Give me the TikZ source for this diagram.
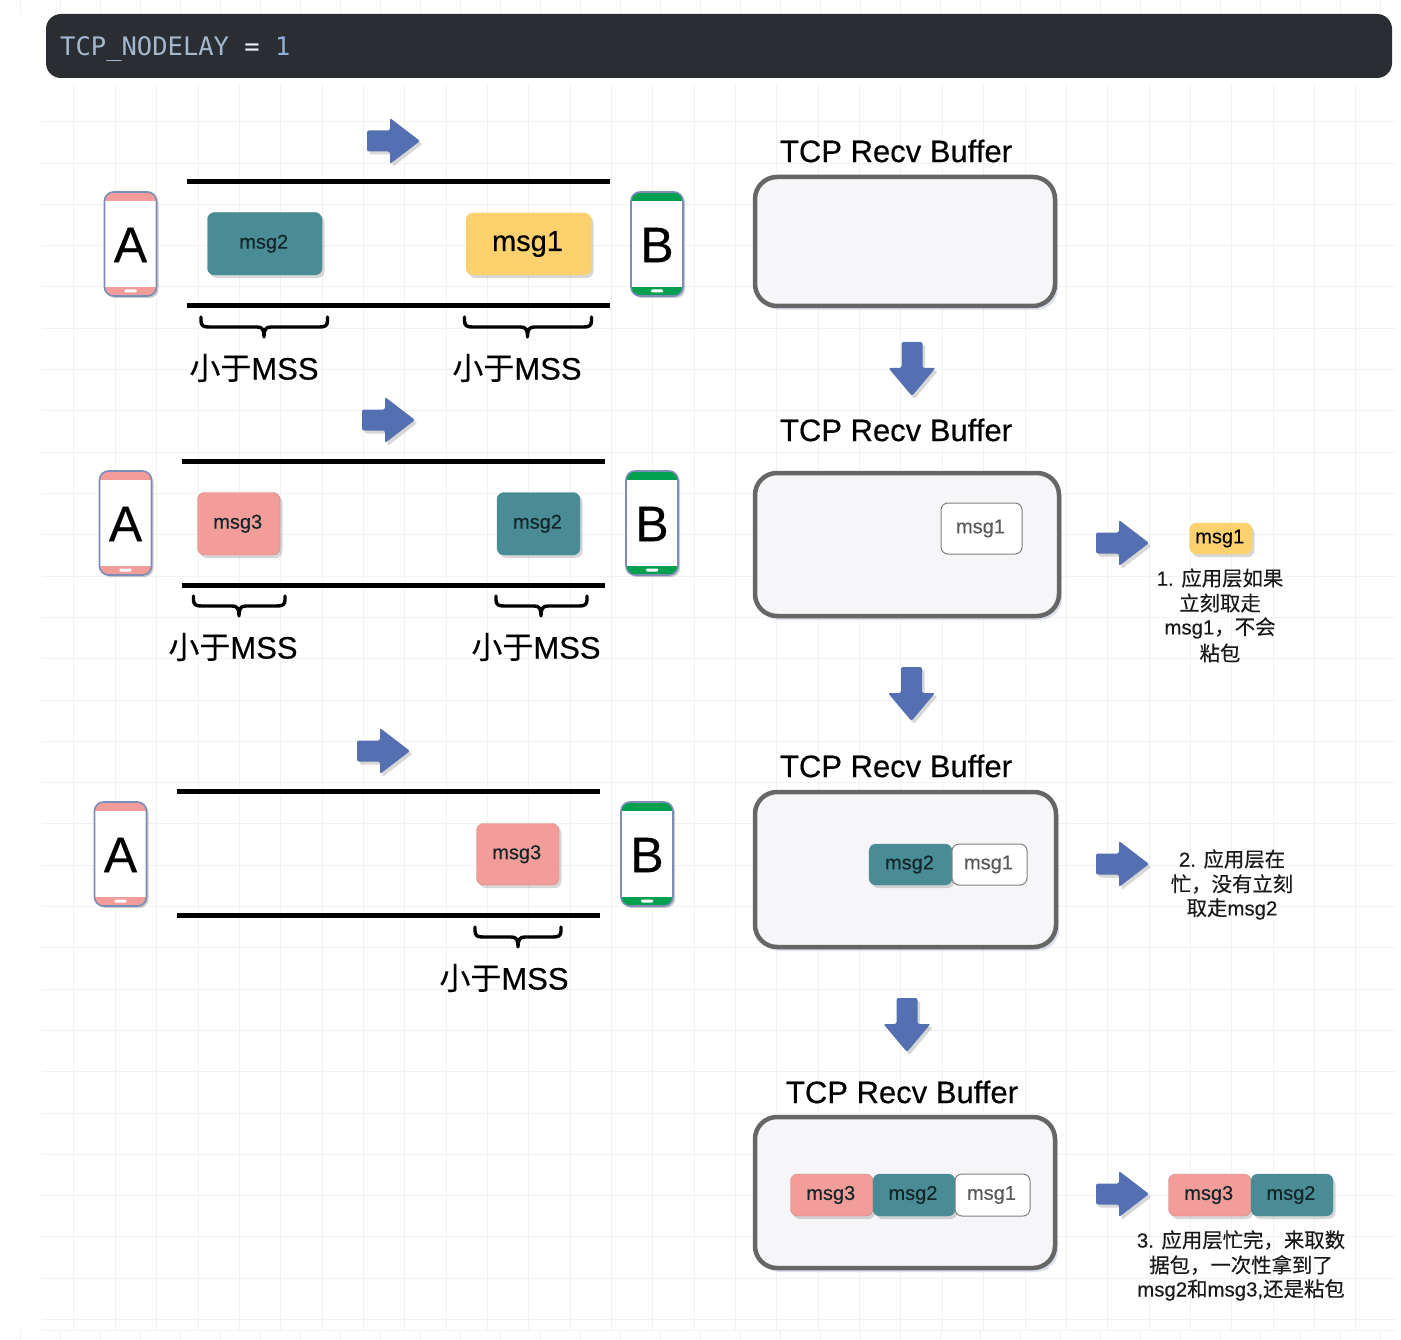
\documentclass[tikz,border=0pt]{standalone}
\usepackage{fontspec}
\setmainfont{Liberation Sans}[FakeBold=0.35]
\newfontfamily\cjk{Noto Sans CJK SC}[FakeBold=0.25]
\newfontfamily\codefont{DejaVu Sans Mono}
\usetikzlibrary{shadows}
\definecolor{codebg}{HTML}{2A2E33}
\definecolor{codefg}{HTML}{A3B8CF}
\definecolor{codenum}{HTML}{8FB0DC}
\definecolor{gridc}{HTML}{F2F2F2}
\definecolor{teal}{HTML}{4A8C96}
\definecolor{yel}{HTML}{FDD26E}
\definecolor{pinkc}{HTML}{F29D9A}
\definecolor{arrowc}{HTML}{5570B2}
\definecolor{phoneb}{HTML}{7C8DB8}
\definecolor{greenc}{HTML}{00A04E}
\definecolor{bufline}{HTML}{666666}
\definecolor{buffill}{HTML}{F6F6F8}
\definecolor{msgtxt}{HTML}{12262A}
\newcommand\fs[1]{\fontsize{#1}{#1}\selectfont}
\newcommand\cn[1]{{\cjk #1}}
\tikzset{
  softshadow/.style={drop shadow={shadow xshift=2.5pt,shadow yshift=-3pt,opacity=.22,fill=black!70}},
  msgbase/.style={rectangle,rounded corners=7pt,inner sep=0pt,text=msgtxt,font=\fs{20}},
  tealbox/.style={msgbase,fill=teal,draw=teal,softshadow},
  yelbox/.style={msgbase,fill=yel,draw=yel,softshadow},
  pinkbox/.style={msgbase,fill=pinkc,draw=pinkc!85!black,softshadow},
  whitebox/.style={msgbase,fill=white,draw=black!50,line width=1pt,text=black!65},
  buffer/.style={rectangle,rounded corners=22pt,inner sep=0pt,fill=buffill,draw=bufline,line width=4.5pt,
    drop shadow={shadow xshift=3pt,shadow yshift=-4pt,opacity=.25,fill=phoneb}},
  wire/.style={line width=5pt,draw=black},
  bracestroke/.style={line width=3.4pt,draw=black,line cap=round,line join=round},
  blockarrow/.style={fill=arrowc,rounded corners=2pt,softshadow},
  title/.style={font=\fs{31},text=black,inner sep=0pt},
  sizelabel/.style={font=\fs{31},text=black,inner sep=0pt},
  note/.style={font=\fs{20.4},text=black!90,inner sep=0pt,align=center},
  phone/.style={rounded corners=9pt,line width=1.6pt},
  phoneletter/.style={font=\fs{50},text=black,inner sep=0pt},
  gridline/.style={draw=gridc,line width=.8pt},
}
% name, x1, y1, x2, y2, style, text
\newcommand\boxnode[7]{%
  \pgfmathsetmacro\bw{#4-#2}\pgfmathsetmacro\bh{#5-#3}%
  \pgfmathsetmacro\bx{(#2+#4)/2}\pgfmathsetmacro\by{(#3+#5)/2}%
  \node[#6,minimum width=\bw pt,minimum height=\bh pt] (#1) at (\bx,\by) {\raisebox{-2.2pt}{\hspace*{-2pt}#7}};}
\newcommand\arrR[2]{%
  \path[blockarrow] (#1,#2-10.5) -- (#1+23,#2-10.5) -- (#1+23,#2-23) -- (#1+53,#2) -- (#1+23,#2+23) -- (#1+23,#2+10.5) -- (#1,#2+10.5) -- cycle;}
\newcommand\arrD[2]{%
  \path[blockarrow] (#1-10.5,#2) -- (#1+10.5,#2) -- (#1+10.5,#2+26) -- (#1+23.5,#2+26) -- (#1,#2+54) -- (#1-23.5,#2+26) -- (#1-10.5,#2+26) -- cycle;}
% x1 xtip x2 y
\newcommand\brc[4]{%
  \draw[bracestroke] (#1,#4) -- (#1,#4+4) .. controls (#1,#4+9) and (#1+3,#4+10) .. (#1+8,#4+10)
    -- (#2-7,#4+10) .. controls (#2-2,#4+10) and (#2,#4+12) .. (#2,#4+20)
    .. controls (#2,#4+12) and (#2+2,#4+10) .. (#2+7,#4+10)
    -- (#3-8,#4+10) .. controls (#3-3,#4+10) and (#3,#4+9) .. (#3,#4+4) -- (#3,#4);}
% name x y colour letter
\newcommand\phonedev[5]{%
  \begin{scope}[shift={(#2,#3)}]
    \fill[white,phone,drop shadow={shadow xshift=2pt,shadow yshift=-2pt,opacity=.2,fill=black}] (0,0) rectangle (52,104);
    \begin{scope}
      \clip[rounded corners=9pt] (0,0) rectangle (52,104);
      \fill[#4] (0,0) rectangle (52,9);
      \fill[#4] (0,95) rectangle (52,104);
    \end{scope}
    \fill[white,rounded corners=1pt] (20,97.5) rectangle (32,100.5);
    \draw[phone,draw=phoneb] (0,0) rectangle (52,104);
    \node[phoneletter] (#1) at (26,53) {#5};
  \end{scope}}
\begin{document}
\begin{tikzpicture}[x=1pt,y=-1pt]
\useasboundingbox (0,0) rectangle (1401,1340);
\fill[white] (0,0) rectangle (1401,1340);
% faint page grid
\begin{scope}
  \clip (42,84) rectangle (1396,1330);
  \foreach \k in {0,...,33} {\draw[gridline] ({32.5+41.35*\k},84) -- ({32.5+41.35*\k},1330);}
  \foreach \k in {0,...,30} {\draw[gridline] (42,{80.4+41.3*\k}) -- (1396,{80.4+41.3*\k});}
\end{scope}
\foreach \k in {0,...,34} {
  \draw[gridline] ({20+40*\k},0) -- ({20+40*\k},14);
  \draw[gridline] ({20+40*\k},1330) -- ({20+40*\k},1340);
}
\draw[gridline] (42,1330) -- (1396,1330);
% code bar
\fill[codebg,rounded corners=15pt] (46,14) rectangle (1392,78);
\node[anchor=west,inner sep=0pt,font=\codefont\fs{25.5},text=codefg] (code) at (60,49.5)
  {TCP\_NODELAY {\color{white!80!codefg}=} {\color{codenum}1}};

% sender rows
\arrR{367}{141}
\arrR{362}{420}
\arrR{357}{751}

\phonedev{a1}{104.5}{192}{pinkc}{A}
\phonedev{b1}{631}{192}{greenc}{B}
\phonedev{a2}{99.5}{471}{pinkc}{A}
\phonedev{b2}{626}{471}{greenc}{B}
\phonedev{a3}{94.5}{802}{pinkc}{A}
\phonedev{b3}{621}{802}{greenc}{B}

\draw[wire] (187,182) -- (610,182);
\draw[wire] (187,306) -- (610,306);
\draw[wire] (182,461) -- (605,461);
\draw[wire] (182,585) -- (605,585);
\draw[wire] (177,791) -- (600,791);
\draw[wire] (177,915) -- (600,915);

\boxnode{r1m2}{207.5}{212.5}{322}{275}{tealbox}{msg2}
\boxnode{r1m1}{466}{213}{591}{275}{yelbox,font=\fs{29},text=black}{msg1}
\boxnode{r2m3}{197.5}{492.5}{280}{555}{pinkbox}{msg3}
\boxnode{r2m2}{497}{492.5}{580}{555}{tealbox}{msg2}
\boxnode{r3m3}{476.5}{823.5}{559}{885}{pinkbox}{msg3}

\brc{201}{264}{327.5}{317}
\brc{464.5}{527.5}{591.5}{317}
\brc{193.5}{239}{285}{596}
\brc{496}{541}{587}{596}
\brc{475}{518}{561}{927}

\node[sizelabel] (l1) at (254,368) {\cn{小于}MSS};
\node[sizelabel] (l2) at (517,368) {\cn{小于}MSS};
\node[sizelabel] (l3) at (233,647) {\cn{小于}MSS};
\node[sizelabel] (l4) at (536,647) {\cn{小于}MSS};
\node[sizelabel] (l5) at (504,978) {\cn{小于}MSS};

% receive buffers
\node[title] (t1) at (896,151) {TCP Recv Buffer};
\node[title] (t2) at (896,430) {TCP Recv Buffer};
\node[title] (t3) at (896,766) {TCP Recv Buffer};
\node[title] (t4) at (902,1092) {TCP Recv Buffer};

\boxnode{buf1}{755}{177}{1055}{306}{buffer}{}
\boxnode{buf2}{755}{473}{1059}{616}{buffer}{}
\boxnode{buf3}{755}{792}{1056}{947}{buffer}{}
\boxnode{buf4}{755}{1117}{1055}{1268}{buffer}{}

\arrD{912}{342}
\arrD{911.5}{667}
\arrD{907}{998}

\boxnode{b2m1}{941}{503}{1022}{554}{whitebox}{msg1}

\boxnode{b3m2}{869}{844}{952}{885}{tealbox}{msg2}
\boxnode{b3m1}{952}{844}{1027}{885}{whitebox}{msg1}

\boxnode{b4m3}{790.5}{1174}{873}{1216}{pinkbox}{msg3}
\boxnode{b4m2}{873}{1174}{955}{1216}{tealbox}{msg2}
\boxnode{b4m1}{955}{1174}{1030}{1216}{whitebox}{msg1}

\arrR{1096}{543}
\arrR{1096}{864}
\arrR{1096}{1194}

\boxnode{o1}{1189.5}{523}{1252}{554}{yelbox,text=black}{msg1}
\boxnode{o3}{1168.5}{1174}{1251}{1216}{pinkbox}{msg3}
\boxnode{o2}{1251}{1174}{1333}{1216}{tealbox}{msg2}

\node[note] (n11) at (1220,578) {1. \cn{应用层如果}};
\node[note] (n12) at (1220,603) {\cn{立刻取走}};
\node[note] (n13) at (1220,628) {msg1\cn{，不会}};
\node[note] (n14) at (1220,653) {\cn{粘包}};

\node[note] (n21) at (1232,859) {2. \cn{应用层在}};
\node[note] (n22) at (1232,884) {\cn{忙，没有立刻}};
\node[note] (n23) at (1232,909) {\cn{取走}msg2};

\node[note] (n31) at (1241,1240) {3. \cn{应用层忙完，来取数}};
\node[note] (n32) at (1241,1265) {\cn{据包，一次性拿到了}};
\node[note] (n33) at (1241,1290) {msg2\cn{和}msg3,\cn{还是粘包}};
\end{tikzpicture}
\end{document}
